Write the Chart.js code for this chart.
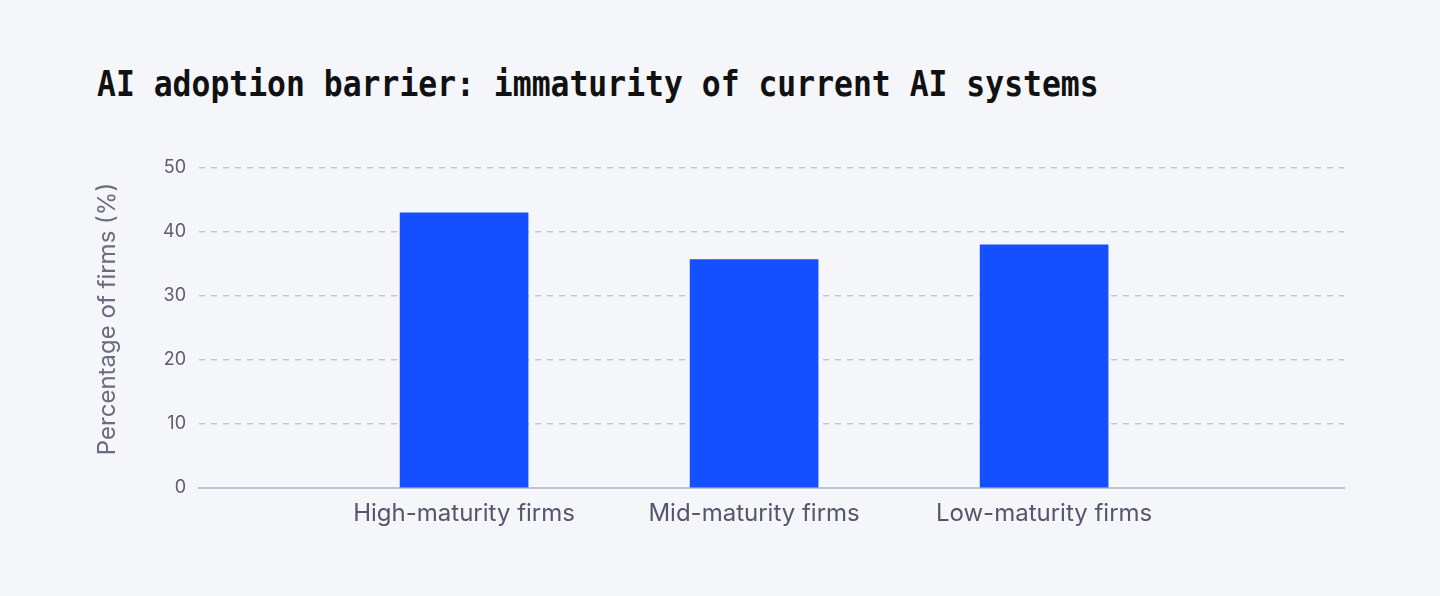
<!DOCTYPE html>
<html>
<head>
<meta charset="utf-8">
<script src="https://cdn.jsdelivr.net/npm/chart.js@4/dist/chart.umd.min.js"></script>
<style>
  html, body { margin: 0; padding: 0; background: #f4f6fa; }
  #wrap { position: relative; width: 1440px; height: 596px; }
  #title {
    position: absolute; left: 97px; top: 63px;
    font-family: "DejaVu Sans Mono", monospace; font-weight: bold;
    font-size: 31.4px; color: #111111;
    transform: scaleY(1.15); transform-origin: left top; white-space: nowrap;
  }
  canvas { position: absolute; left: 0; top: 0; }
</style>
</head>
<body>
<div id="wrap">
  <div id="title">AI adoption barrier: immaturity of current AI systems</div>
  <canvas id="graphCanvas" width="1440" height="596"></canvas>
</div>
<script>
var categories = ['High-maturity firms', 'Mid-maturity firms', 'Low-maturity firms'];
var positions = [1, 2, 3];
var percentages = [43, 35.7, 38];
var yTicks = [0, 10, 20, 30, 40, 50];
var yTitle = 'Percentage of firms (%)';

// y axis title, drawn by hand so it sits a bit above the centre like the original
var yTitlePlugin = {
    id: 'yTitle',
    afterDraw: function (chart) {
        var ctx = chart.ctx;
        var area = chart.chartArea;
        ctx.save();
        ctx.translate(108, (area.top + area.bottom) / 2 - 9);
        ctx.rotate(-Math.PI / 2);
        ctx.font = '24px Inter';
        ctx.fillStyle = '#6b6c7e';
        ctx.textAlign = 'center';
        ctx.textBaseline = 'middle';
        ctx.fillText(yTitle, 0, 0);
        ctx.restore();
    }
};

function showGraph()
{
    var points = [];
    for (var i in categories) {
        points.push({ x: positions[i], y: percentages[i] });
    }

    var chartdata = {
        datasets: [
            {
                label: 'Percentage of firms',
                backgroundColor: '#1450ff',
                borderWidth: 0,
                barThickness: 128,
                data: points
            }
        ]
    };

    var graphTarget = document.getElementById('graphCanvas');

    new Chart(graphTarget, {
        type: 'bar',
        data: chartdata,
        plugins: [yTitlePlugin],
        options: {
            responsive: false,
            animation: false,
            layout: { padding: { left: 96, right: 96, top: 168, bottom: 48 } },
            plugins: {
                legend: { display: false },
                tooltip: { enabled: false }
            },
            scales: {
                x: {
                    type: 'linear',
                    offset: false,
                    min: 0.086,
                    max: 4.034,
                    afterBuildTicks: function (scale) {
                        scale.ticks = positions.map(function (p) { return { value: p }; });
                    },
                    afterFit: function (scale) { scale.height = 60; },
                    grid: { display: false, drawTicks: false },
                    border: { display: true, color: '#bfc3d3', width: 2 },
                    ticks: {
                        padding: 11,
                        autoSkip: false,
                        maxRotation: 0,
                        color: '#55566a',
                        font: { family: 'Inter', size: 24 },
                        callback: function (v) { return categories[v - 1] || ''; }
                    }
                },
                y: {
                    min: 0,
                    max: 50,
                    afterBuildTicks: function (scale) {
                        scale.ticks = yTicks.map(function (t) { return { value: t }; });
                    },
                    afterFit: function (scale) { scale.width = 103; },
                    border: { display: false, dash: [6, 6] },
                    grid: { color: '#c3c7d5', lineWidth: 1.5, drawTicks: false },
                    ticks: {
                        padding: 13,
                        color: '#5c5d70',
                        font: { family: 'Inter', size: 18 }
                    },
                    title: { display: false }
                }
            }
        }
    });
}

showGraph();
</script>
</body>
</html>
